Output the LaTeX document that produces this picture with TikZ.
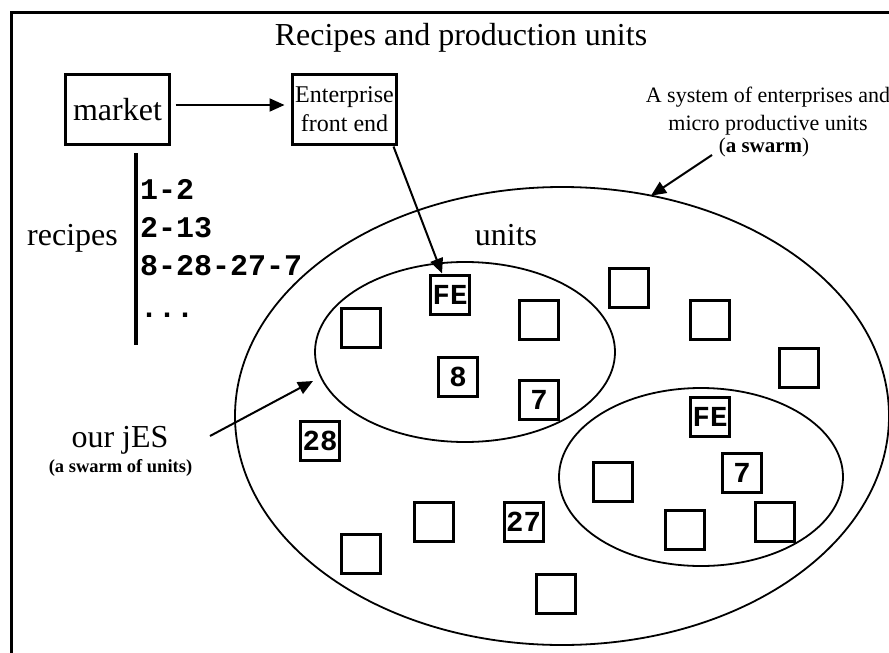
\documentclass[tikz,border=0pt]{standalone}
\usepackage{fontspec}
\setmainfont{Liberation Serif}
\setmonofont{Liberation Mono}
\usetikzlibrary{arrows.meta,shapes.geometric}
\begin{document}
\begin{tikzpicture}[x=1pt,y=-1pt,
  unitbox/.style={draw, line width=3pt, minimum size=39pt, inner sep=0pt, outer sep=0pt,
    font=\fontsize{29}{32}\selectfont\ttfamily\bfseries},
  bigbox/.style={draw, line width=3pt, minimum width=104pt, minimum height=70pt, inner sep=0pt, outer sep=0pt},
  swarm/.style={draw, ellipse, line width=1.8pt, inner sep=0pt, outer sep=0pt},
  arr/.style={line width=2pt, -{Triangle[length=15pt,width=13pt]}},
  serifbig/.style={font=\fontsize{32}{38}\selectfont, inner sep=0pt, anchor=base},
  serifsmall/.style={font=\fontsize{22}{26}\selectfont, inner sep=0pt, anchor=base},
  recipe/.style={font=\fontsize{30}{36}\selectfont\ttfamily\bfseries, inner sep=0pt, anchor=base west}
]
\useasboundingbox (0,0) rectangle (889,653);
\fill[white] (0,0) rectangle (889,653);
% frame
\draw[line width=3pt] (11,653) -- (11,12) -- (889,12);

% title
\node[serifbig] (title) at (461,45) {Recipes and production units};

% market and enterprise front end
\node[bigbox, font=\fontsize{32}{38}\selectfont] (market) at (117.5,109.5) {market};
\node[bigbox, align=center, font=\fontsize{24}{29}\selectfont] (ent) at (344.5,109.5) {Enterprise\\front end};

% recipes
\coordinate (rtop) at (136,153);
\coordinate (rbot) at (136,345);
\draw[line width=3.5pt] (rtop) -- (rbot);
\node[serifbig] (recipes) at (72.5,245) {recipes};
\node[recipe] (r1) at (140,199) {1-2};
\node[recipe] (r2) at (140,237) {2-13};
\node[recipe] (r3) at (140,275) {8-28-27-7};
\node[recipe] (r4) at (140,317) {...};

% swarm description
\node[serifsmall] (sw1) at (768,102) {A system of enterprises and};
\node[serifsmall] (sw2) at (768,130) {micro productive units};
\node[serifsmall, font=\fontsize{21}{26}\selectfont] (sw3) at (764,152) {(\textbf{a swarm})};

% ellipses
\node[swarm, minimum width=654pt, minimum height=458pt] (big) at (562,416) {};
\node[swarm, minimum width=300pt, minimum height=180pt] (jes) at (465,352) {};
\node[swarm, minimum width=284pt, minimum height=178pt] (other) at (701,477) {};

\node[serifbig] (units) at (506,245) {units};
\node[serifbig] (ourjes) at (120,447) {our jES};
\node[font=\fontsize{18.5}{22}\selectfont\bfseries, inner sep=0pt, anchor=base] (ourjessub) at (120.5,472) {(a swarm of units)};

% units inside our jES
\node[unitbox] (fe1) at (450,295) {FE};
\node[unitbox] (u1) at (361,327.5) {};
\node[unitbox] (u2) at (539,319.5) {};
\node[unitbox] (b8) at (458,376.5) {8};
\node[unitbox] (b7a) at (539,399.5) {7};

% units in the big swarm
\node[unitbox] (u3) at (628.5,287.5) {};
\node[unitbox] (u4) at (710,319.5) {};
\node[unitbox] (u5) at (799,367.5) {};
\node[unitbox] (b28) at (320,440.5) {28};
\node[unitbox] (u6) at (361,553.5) {};
\node[unitbox] (u7) at (434,521.5) {};
\node[unitbox] (b27) at (523.5,521.5) {27};
\node[unitbox] (u8) at (555.5,593.5) {};

% units in the other enterprise
\node[unitbox] (fe2) at (710,416.5) {FE};
\node[unitbox] (b7b) at (742,472.5) {7};
\node[unitbox] (u9) at (612.5,481.5) {};
\node[unitbox] (u10) at (685,529.5) {};
\node[unitbox] (u11) at (774.5,521.5) {};

% connectors
\draw[arr] ([shift={(6,-4.5)}]market.east) -- ([shift={(-8,-4.5)}]ent.west);
\draw[arr] ([shift={(-3,2)}]ent.south east) -- ([shift={(-8,-2)}]fe1.north);
\coordinate (swtail) at (712,155);
\draw[arr] (swtail) -- (big.68);
\coordinate (jestail) at (210,436);
\coordinate (jeshead) at (313,381);
\draw[arr] (jestail) -- (jeshead);
\end{tikzpicture}
\end{document}
